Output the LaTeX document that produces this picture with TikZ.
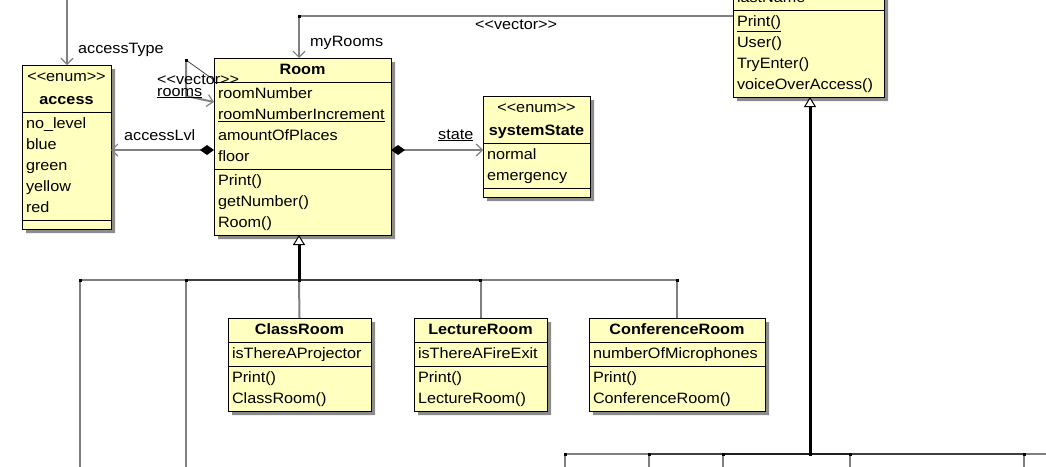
\documentclass[tikz,border=0pt]{standalone}
\usepackage{fontspec}
\setmainfont{Liberation Sans}[FakeStretch=1.08]
\usetikzlibrary{shapes.multipart}
\usetikzlibrary{shadows}
\usetikzlibrary{arrows.meta}
\definecolor{umlfill}{RGB}{255,255,192}
\definecolor{linkgray}{RGB}{128,128,128}
\newcommand{\stereo}[1]{<\kern0pt<#1>\kern0pt>}
\newcommand{\ctitle}[1]{\makebox[\hsize]{\strut#1}}
\tikzset{
    umlbox/.style = {rectangle split, rectangle split parts=3, draw=black, line width=1pt, fill=umlfill,
        anchor=north west, inner xsep=4pt, inner ysep=1pt, outer sep=0pt, align=left,
        font=\fontsize{15}{21}\selectfont,
        drop shadow={shadow xshift=4pt, shadow yshift=-4pt, fill=black!45, opacity=1}},
    lbl/.style = {anchor=base west, inner sep=0pt, font=\fontsize{15}{21}\selectfont},
    edgea/.style = {-{Straight Barb[length=6pt,width=12pt,line width=1.2pt]}, line width=2pt, linkgray}, % association
    edgec/.style = {{Diamond[length=14pt,width=10pt,color=black]}-{Straight Barb[length=6pt,width=12pt,line width=1.2pt]}, line width=2pt, linkgray}, % composition
    edgeg/.style = {line width=2pt, draw=black, draw opacity=0.5}, % generalization branch
    edges/.style = {-{Triangle[length=10pt,width=12pt,line width=1pt,fill=white]}, line width=3pt, black}, % generalization stem
    joint/.style = {fill=black}
}
\begin{document}
\begin{tikzpicture}[x=1pt,y=-1pt]
\useasboundingbox (0,0) rectangle (1046,466);
%
\node[umlbox, text width=169pt] at (214,58) (room) {\ctitle{\textbf{Room}}
  \nodepart{two}\strut roomNumber\\\strut\underline{roomNumberIncrement}\\\strut amountOfPlaces\\\strut floor
  \nodepart{three}\strut Print()\\\strut getNumber()\\\strut Room()};
\node[umlbox, text width=81pt] at (22,65) (access) {\ctitle{\stereo{enum}}\\[2pt]\ctitle{\textbf{access}}
  \nodepart{two}\strut no\_level\\\strut blue\\\strut green\\\strut yellow\\\strut red
  \nodepart{three}\rule{0pt}{6pt}};
\node[umlbox, text width=99pt] at (483,96) (sysstate) {\ctitle{\stereo{enum}}\\[2pt]\ctitle{\textbf{systemState}}
  \nodepart{two}\strut normal\\\strut emergency
  \nodepart{three}\rule{0pt}{6pt}};
\node[umlbox, rectangle split parts=2, text width=143pt] at (733,-14) (user) {\strut lastName
  \nodepart{two}\strut\underline{Print()}\\\strut User()\\\strut TryEnter()\\\strut voiceOverAccess()};
\node[umlbox, text width=135pt] at (228,318) (classroom) {\ctitle{\textbf{ClassRoom}}
  \nodepart{two}\strut isThereAProjector
  \nodepart{three}\strut Print()\\\strut ClassRoom()};
\node[umlbox, text width=125pt] at (414,318) (lecture) {\ctitle{\textbf{LectureRoom}}
  \nodepart{two}\strut isThereAFireExit
  \nodepart{three}\strut Print()\\\strut LectureRoom()};
\node[umlbox, text width=168pt] at (589,318) (conf) {\ctitle{\textbf{ConferenceRoom}}
  \nodepart{two}\strut numberOfMicrophones
  \nodepart{three}\strut Print()\\\strut ConferenceRoom()};
%
\coordinate (lvl) at (0,150);
\coordinate (atop) at (67,-10);
\coordinate (mybend) at (299,16);
\coordinate (selfbend) at (186,60);
\coordinate (selflow) at (186,96);
\coordinate (hub) at (299,280);
\coordinate (uhub) at (810,454);
\coordinate (sub1) at (80,480);
\coordinate (sub2) at (186,480);
\foreach \x [count=\i] in {565,649,723,850,1024,1070}
  \coordinate (usub\i) at (\x,480);
%
\draw[edgea] (atop) -- (atop |- access.north);
\draw[edgea] (user.west |- mybend) -- (mybend) -- (mybend |- room.north);
\draw[black!75, line width=0.8pt] ([yshift=-22pt]room.north west) -- (selfbend);
\draw[edgea] (selfbend) -- (selflow) -- ([yshift=-44pt]room.north west);
\draw[edgec] (room.west |- lvl) -- (access.east |- lvl);
\draw[edgec] (room.east |- lvl) -- (sysstate.west |- lvl);
%
\draw[edgeg] (sub1) -- (sub1 |- hub) -- (hub);
\draw[edgeg] (sub2) -- (sub2 |- hub) -- (hub);
\draw[edgeg] (classroom.north) -- (hub);
\draw[edgeg] (lecture.north) -- (lecture.north |- hub) -- (hub);
\draw[edgeg] (conf.north) -- (conf.north |- hub) -- (hub);
\draw[edges] (hub) -- (hub |- room.south);
\foreach \i in {1,...,6}
  \draw[edgeg] (usub\i) -- (usub\i |- uhub) -- (uhub);
\draw[edges] (uhub) -- (uhub |- user.south);
%
\foreach \p in {selfbend, mybend, hub, sub1 |- hub, sub2 |- hub, lecture.north |- hub, conf.north |- hub, uhub}
  \fill[joint] (\p) +(-1.5,-1.5) rectangle +(1.5,1.5);
\foreach \i in {1,...,6}
  \fill[joint] (usub\i |- uhub) +(-1.5,-1.5) rectangle +(1.5,1.5);
%
\node[lbl] at (78,53) (lbltype) {accessType};
\node[lbl] at (310,46) (lblmy) {myRooms};
\node[lbl] at (475,29) (lblvec) {\stereo{vector}};
\node[lbl] at (157,84) (lblselfvec) {\stereo{vector}};
\node[lbl] at (157,96) (lblrooms) {\underline{rooms}};
\node[lbl] at (124,140) (lbllvl) {accessLvl};
\node[lbl] at (438,139) (lblstate) {\underline{state}};
\end{tikzpicture}
\end{document}
